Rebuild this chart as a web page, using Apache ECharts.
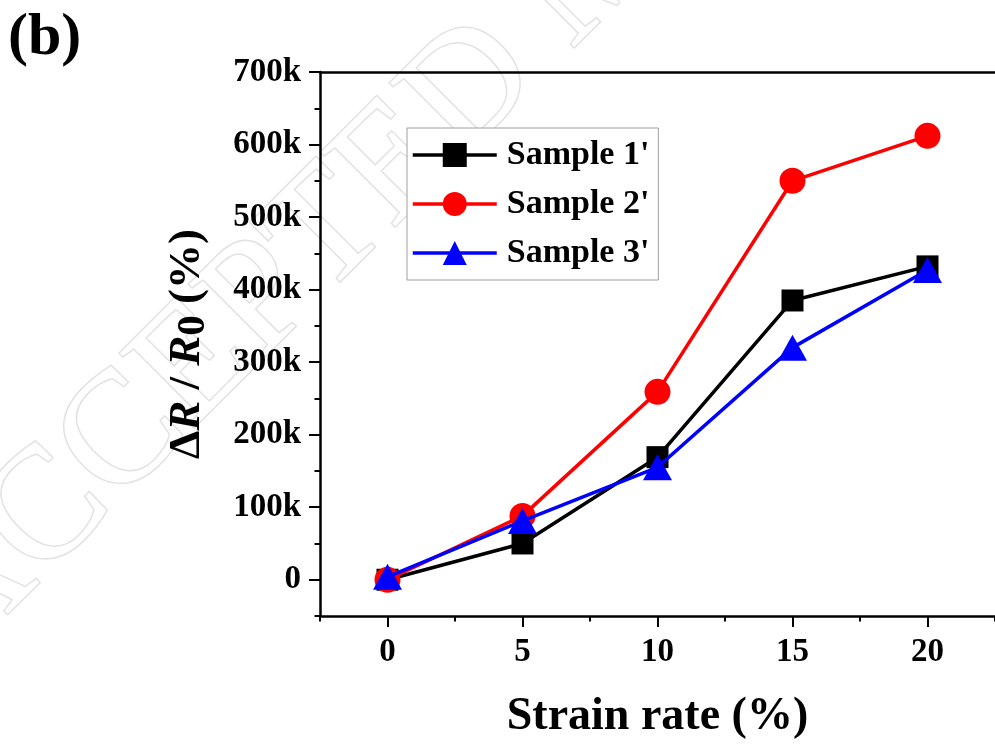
<!DOCTYPE html>
<html>
<head>
<meta charset="utf-8">
<script src="https://cdn.jsdelivr.net/npm/echarts@6/dist/echarts.min.js"></script>
<style>
html, body { margin: 0; padding: 0; background: #ffffff; }
#chart { width: 995px; height: 745px; }
</style>
</head>
<body>
<div id="chart"></div>
<script>
// ---- data ----
const strainRate = [0, 5, 10, 15, 20];
const sample1 = [0, 50000, 169000, 385000, 432000];
const sample2 = [0, 88000, 259000, 550000, 612000];
const sample3 = [4000, 81000, 155000, 320000, 427000];
const seriesNames = ["Sample 1'", "Sample 2'", "Sample 3'"];

// ---- ticks ----
const xMajorTicks = [0, 5, 10, 15, 20];
const xTickLabels = ['0', '5', '10', '15', '20'];
const xMinorTicks = [-2.5, 2.5, 7.5, 12.5, 17.5, 22.5];
const yMajorTicks = [0, 100000, 200000, 300000, 400000, 500000, 600000, 700000];
const yTickLabels = ['0', '100k', '200k', '300k', '400k', '500k', '600k', '700k'];
const yMinorTicks = [-50000, 50000, 150000, 250000, 350000, 450000, 550000, 650000];

const FONT = "'Liberation Serif', 'Times New Roman', serif";
const chart = echarts.init(document.getElementById('chart'), null, { renderer: 'canvas' });

const axisLineStyle = { color: '#000', width: 2.5 };
const xRange = { min: -2.5, max: 22.5 };
const yRange = { min: -50000, max: 700000 };

function pairs(vals) { return strainRate.map((x, i) => [x, vals[i]]); }

const option = {
  backgroundColor: '#ffffff',
  animation: false,
  textStyle: { fontFamily: FONT },
  grid: { left: 320, top: 72, width: 686, height: 550, containLabel: false },
  legend: {
    orient: 'vertical',
    left: 407,
    top: 128,
    data: seriesNames,
    itemWidth: 84,
    itemHeight: 30,
    itemGap: 15,
    padding: [10, 9, 10, 4],
    borderColor: '#a0a0a0',
    borderWidth: 1,
    backgroundColor: '#ffffff',
    lineStyle: { width: 3.5 },
    textStyle: { fontFamily: FONT, fontSize: 34, fontWeight: 'bold', color: '#000', padding: [0, 0, 0, 5] }
  },
  xAxis: [
    {
      type: 'value', position: 'bottom', ...xRange,
      axisLine: { show: true, onZero: false, lineStyle: axisLineStyle },
      axisTick: { show: true, customValues: xMajorTicks, length: 11, lineStyle: { color: '#000', width: 2 } },
      axisLabel: {
        customValues: xMajorTicks,
        formatter: (v) => xTickLabels[xMajorTicks.indexOf(v)],
        margin: 20, fontFamily: FONT, fontSize: 33, fontWeight: 'bold', color: '#000'
      },
      splitLine: { show: false },
      name: 'Strain rate (%)',
      nameLocation: 'middle',
      nameGap: 78,
      nameTextStyle: { fontFamily: FONT, fontSize: 46, fontWeight: 'bold', color: '#000' }
    },
    {
      type: 'value', position: 'bottom', ...xRange,
      axisLine: { show: false, onZero: false },
      axisTick: { show: true, customValues: xMinorTicks, length: 5.5, lineStyle: { color: '#000', width: 2 } },
      axisLabel: { show: false },
      splitLine: { show: false }
    },
    {
      type: 'value', position: 'top', ...xRange,
      axisLine: { show: true, onZero: false, lineStyle: axisLineStyle },
      axisTick: { show: false },
      axisLabel: { show: false },
      splitLine: { show: false }
    }
  ],
  yAxis: [
    {
      type: 'value', position: 'left', ...yRange,
      axisLine: { show: true, onZero: false, lineStyle: axisLineStyle },
      axisTick: { show: true, customValues: yMajorTicks, length: 11, lineStyle: { color: '#000', width: 2 } },
      axisLabel: {
        customValues: yMajorTicks,
        formatter: (v) => yTickLabels[yMajorTicks.indexOf(v)],
        margin: 19, fontFamily: FONT, fontSize: 33, fontWeight: 'bold', color: '#000'
      },
      splitLine: { show: false },
      name: '{n|Δ}{i|R}{n| / }{i|R}{s|0}{n| (%)}',
      nameLocation: 'middle',
      nameRotate: 90,
      nameGap: 106,
      nameTextStyle: {
        fontFamily: FONT, fontSize: 45, fontWeight: 'bold', color: '#000',
        rich: {
          n: { fontFamily: FONT, fontSize: 45, fontWeight: 'bold', color: '#000' },
          i: { fontFamily: FONT, fontSize: 45, fontWeight: 'bold', fontStyle: 'italic', color: '#000' },
          s: { fontFamily: FONT, fontSize: 41, fontWeight: 'bold', color: '#000', padding: [12, 0, 0, 0] }
        }
      }
    },
    {
      type: 'value', position: 'left', ...yRange,
      axisLine: { show: false, onZero: false },
      axisTick: { show: true, customValues: yMinorTicks, length: 5.5, lineStyle: { color: '#000', width: 2 } },
      axisLabel: { show: false },
      splitLine: { show: false }
    }
  ],
  graphic: [
    {
      type: 'text', left: 8, top: 8, z: 10,
      style: { text: '(b)', font: "bold 60px 'Liberation Serif', 'Times New Roman', serif", fill: '#000' }
    },
    {
      type: 'text', x: -15, y: 690, rotation: 45 * Math.PI / 180, z: -10, silent: true,
      style: {
        text: 'ACCEPTED MANUSCRIPT',
        font: "160px 'Liberation Serif', 'Times New Roman', serif",
        fill: '#ffffff', stroke: '#e2e2e2', lineWidth: 3,
        textAlign: 'left', textVerticalAlign: 'bottom'
      }
    }
  ],
  series: [
    {
      name: seriesNames[0], type: 'line', xAxisIndex: 0, yAxisIndex: 0,
      data: pairs(sample1), symbol: 'rect', symbolSize: 22,
      lineStyle: { color: '#000000', width: 3.5 }, itemStyle: { color: '#000000' }, z: 3
    },
    {
      name: seriesNames[1], type: 'line', xAxisIndex: 0, yAxisIndex: 0,
      data: pairs(sample2), symbol: 'circle', symbolSize: 26,
      lineStyle: { color: '#ff0000', width: 3.5 }, itemStyle: { color: '#ff0000' }, z: 4
    },
    {
      name: seriesNames[2], type: 'line', xAxisIndex: 0, yAxisIndex: 0,
      data: pairs(sample3), symbol: 'triangle', symbolSize: [29, 26],
      lineStyle: { color: '#0000ff', width: 3.5 }, itemStyle: { color: '#0000ff' }, z: 5
    }
  ]
};
chart.setOption(option);
</script>
</body>
</html>
